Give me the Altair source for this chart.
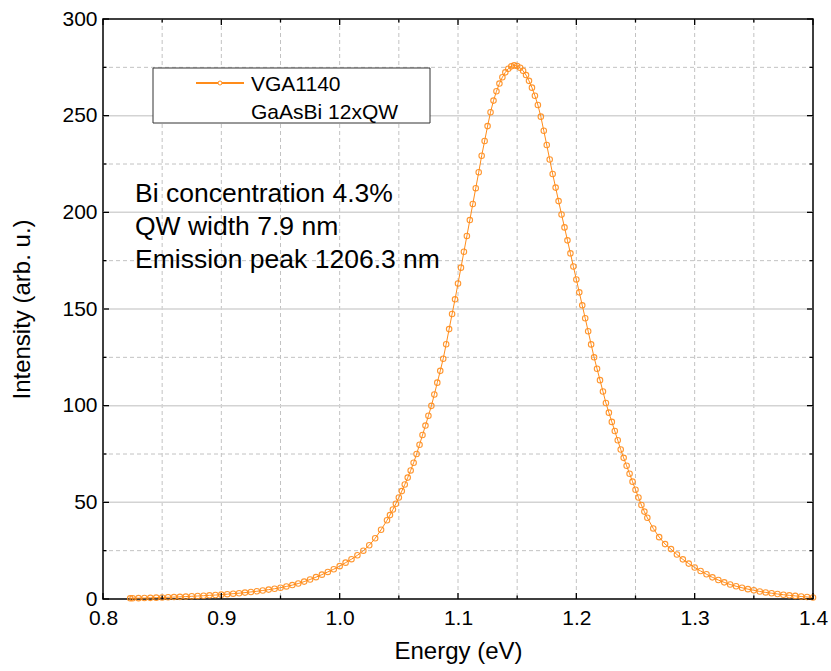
import altair as alt
import pandas as pd

energy = [0.823, 0.825, 0.830, 0.835, 0.840, 0.845, 0.850, 0.855, 0.860, 0.865,
          0.870, 0.875, 0.880, 0.885, 0.890, 0.895, 0.900, 0.905, 0.910, 0.915,
          0.920, 0.925, 0.930, 0.935, 0.940, 0.945, 0.950, 0.955, 0.960, 0.965,
          0.970, 0.975, 0.980, 0.985, 0.990, 0.995, 1.000, 1.005, 1.010, 1.015,
          1.020, 1.025, 1.030, 1.035, 1.040, 1.0425, 1.045, 1.0475, 1.050, 1.0525,
          1.055, 1.0575, 1.060, 1.0625, 1.065, 1.0675, 1.070, 1.0725, 1.075, 1.0775,
          1.080, 1.0825, 1.085, 1.0875, 1.090, 1.0925, 1.095, 1.0975, 1.100, 1.1025,
          1.105, 1.1075, 1.110, 1.1125, 1.115, 1.1175, 1.120, 1.1225, 1.125, 1.1275,
          1.130, 1.1325, 1.135, 1.1375, 1.140, 1.1425, 1.145, 1.1475, 1.150, 1.1525,
          1.155, 1.1575, 1.160, 1.1625, 1.165, 1.1675, 1.170, 1.1725, 1.175, 1.1775,
          1.180, 1.1825, 1.185, 1.1875, 1.190, 1.1925, 1.195, 1.1975, 1.200, 1.2025,
          1.205, 1.2075, 1.210, 1.2125, 1.215, 1.2175, 1.220, 1.2225, 1.225, 1.2275,
          1.230, 1.2325, 1.235, 1.2375, 1.240, 1.2425, 1.245, 1.2475, 1.250, 1.2525,
          1.255, 1.2575, 1.260, 1.265, 1.270, 1.275, 1.280, 1.285, 1.290, 1.295,
          1.300, 1.305, 1.310, 1.315, 1.320, 1.325, 1.330, 1.335, 1.340, 1.345,
          1.350, 1.355, 1.360, 1.365, 1.370, 1.375, 1.380, 1.385, 1.390, 1.395,
          1.400]

intensity = [0.35, 0.4, 0.45, 0.5, 0.6, 0.7, 0.8, 0.9, 1.0, 1.1,
             1.25, 1.4, 1.55, 1.7, 1.9, 2.05, 2.25, 2.5, 2.75, 3.0,
             3.3, 3.65, 4.0, 4.4, 4.85, 5.3, 5.85, 6.5, 7.2, 8.0,
             9.0, 10.1, 11.3, 12.6, 14.0, 15.4, 17.0, 18.8, 20.6, 22.6,
             25.0, 27.8, 31.4, 35.8, 40.7, 43.4, 46.3, 49.3, 52.5, 55.8,
             59.2, 62.8, 66.5, 70.5, 75.0, 79.8, 84.8, 89.7, 94.8, 99.9,
             105.8, 111.9, 118.0, 124.3, 131.8, 139.6, 147.4, 155.0, 163.2, 171.4,
             179.6, 187.8, 196.0, 204.3, 212.5, 220.7, 229.3, 236.9, 244.6, 251.8,
             257.8, 262.6, 266.6, 269.9, 272.4, 274.3, 275.5, 276.0, 275.7, 274.8,
             273.2, 271.0, 268.0, 264.5, 260.3, 255.5, 249.5, 242.2, 234.8, 227.3,
             219.8, 212.8, 205.8, 198.9, 192.2, 185.5, 178.8, 172.0, 165.3, 158.6,
             151.9, 145.2, 138.5, 131.7, 125.0, 119.1, 113.2, 107.3, 101.4, 96.4,
             91.6, 86.9, 82.1, 77.3, 73.0, 68.9, 64.8, 60.7, 56.5, 52.5,
             48.6, 45.2, 42.0, 36.5, 32.0, 28.4, 25.8, 23.0, 20.5, 18.3,
             16.3, 14.5, 12.8, 11.2, 9.8, 8.6, 7.5, 6.6, 5.8, 5.1,
             4.5, 3.9, 3.4, 3.0, 2.6, 2.2, 1.9, 1.6, 1.3, 1.05,
             0.8]

x_major = [0.8, 0.9, 1.0, 1.1, 1.2, 1.3, 1.4]
x_minor = [0.85, 0.95, 1.05, 1.15, 1.25, 1.35]
y_major = [0, 50, 100, 150, 200, 250, 300]
y_minor = [25, 75, 125, 175, 225, 275]
legend_labels = ["VGA1140", "GaAsBi 12xQW"]
notes = ["Bi concentration 4.3%", "QW width 7.9 nm", "Emission peak 1206.3 nm"]

W, H = 710, 580
FONT = "Liberation Sans"
ORANGE = "#ff8c1a"

xs = alt.Scale(domain=[0.8, 1.4], nice=False, zero=False)
ys = alt.Scale(domain=[0, 300], nice=False, zero=True)

XA = alt.Axis(values=x_major, format=".1f", title="Energy (eV)",
              ticks=False, domain=False, grid=False, labelFlush=False,
              labelPadding=8, titlePadding=11)
YA = alt.Axis(values=y_major, format="d", title="Intensity (arb. u.)",
              ticks=False, domain=False, grid=False, labelFlush=False,
              labelPadding=6, titlePadding=27)

df = pd.DataFrame({"E": energy, "I": intensity})
one = pd.DataFrame({"k": [0]})


def xdf(vals):
    return pd.DataFrame({"x": vals})


def ydf(vals):
    return pd.DataFrame({"y": vals})


XN = alt.X("x:Q", scale=xs, axis=XA, title="Energy (eV)")
YN = alt.Y("y:Q", scale=ys, axis=YA, title="Intensity (arb. u.)")

vgrid = alt.Chart(xdf(x_major[1:-1] + x_minor)).mark_rule(
    color="#c2c2c2", strokeDash=[4, 3], strokeWidth=1).encode(x=XN)
hgrid_major = alt.Chart(ydf(y_major[1:-1])).mark_rule(
    color="#d3d3d3", strokeWidth=1.5).encode(y=YN)
hgrid_minor = alt.Chart(ydf(y_minor)).mark_rule(
    color="#c2c2c2", strokeDash=[4, 3], strokeWidth=1).encode(y=YN)

base = alt.Chart(df).encode(
    x=alt.X("E:Q", scale=xs, axis=XA, title="Energy (eV)"),
    y=alt.Y("I:Q", scale=ys, axis=YA, title="Intensity (arb. u.)"),
)
line = base.mark_line(color=ORANGE, strokeWidth=1)
pts = base.mark_point(shape="circle", filled=False, size=30, strokeWidth=1.1,
                      color=ORANGE, opacity=0.9)

tick_layers = []
for vals, ln in ((x_major, 6), (x_minor, 3.5)):
    tick_layers.append(alt.Chart(xdf(vals)).mark_rule(color="black", strokeWidth=1.3)
                       .encode(x=XN, y=alt.value(H), y2=alt.value(H - ln)))
    tick_layers.append(alt.Chart(xdf(vals)).mark_rule(color="black", strokeWidth=1.3)
                       .encode(x=XN, y=alt.value(0), y2=alt.value(ln)))
for vals, ln in ((y_major, 6), (y_minor, 3.5)):
    tick_layers.append(alt.Chart(ydf(vals)).mark_rule(color="black", strokeWidth=1.3)
                       .encode(y=YN, x=alt.value(0), x2=alt.value(ln)))
    tick_layers.append(alt.Chart(ydf(vals)).mark_rule(color="black", strokeWidth=1.3)
                       .encode(y=YN, x=alt.value(W), x2=alt.value(W - ln)))

leg_box = alt.Chart(one).mark_rect(fill="white", stroke="#333333", strokeWidth=1).encode(
    x=alt.value(50), x2=alt.value(327), y=alt.value(49), y2=alt.value(104))
leg_line = alt.Chart(one).mark_rule(color=ORANGE, strokeWidth=2).encode(
    x=alt.value(93), x2=alt.value(141), y=alt.value(64))
leg_pt = alt.Chart(one).mark_point(shape="circle", filled=True, fill="white",
                                   stroke=ORANGE, strokeWidth=1, size=16, opacity=1).encode(
    x=alt.value(117), y=alt.value(64))
leg_t1 = alt.Chart(one).mark_text(align="left", baseline="alphabetic", font=FONT,
                                  fontSize=21, color="black").encode(
    x=alt.value(148), y=alt.value(72), text=alt.value(legend_labels[0]))
leg_t2 = alt.Chart(one).mark_text(align="left", baseline="alphabetic", font=FONT,
                                  fontSize=21, color="black").encode(
    x=alt.value(148), y=alt.value(100), text=alt.value(legend_labels[1]))

note_layers = []
for i, t in enumerate(notes):
    note_layers.append(alt.Chart(one).mark_text(align="left", baseline="alphabetic", font=FONT,
                                                fontSize=26.5, color="black").encode(
        x=alt.value(32), y=alt.value(183 + 33 * i), text=alt.value(t)))

chart = alt.layer(
    vgrid, hgrid_major, hgrid_minor, line, pts, *tick_layers,
    leg_box, leg_line, leg_pt, leg_t1, leg_t2, *note_layers
).properties(
    width=W, height=H,
    padding={"left": 103, "top": 19, "right": 18, "bottom": 72},
    autosize="none", background="white",
).configure_view(
    stroke="black", strokeWidth=1.5
).configure_axis(
    labelFont=FONT, titleFont=FONT, labelFontSize=21, titleFontSize=24,
    labelColor="black", titleColor="black", titleFontWeight="normal"
)

chart.save("out.html", embed_options={"renderer": "svg", "actions": False})
